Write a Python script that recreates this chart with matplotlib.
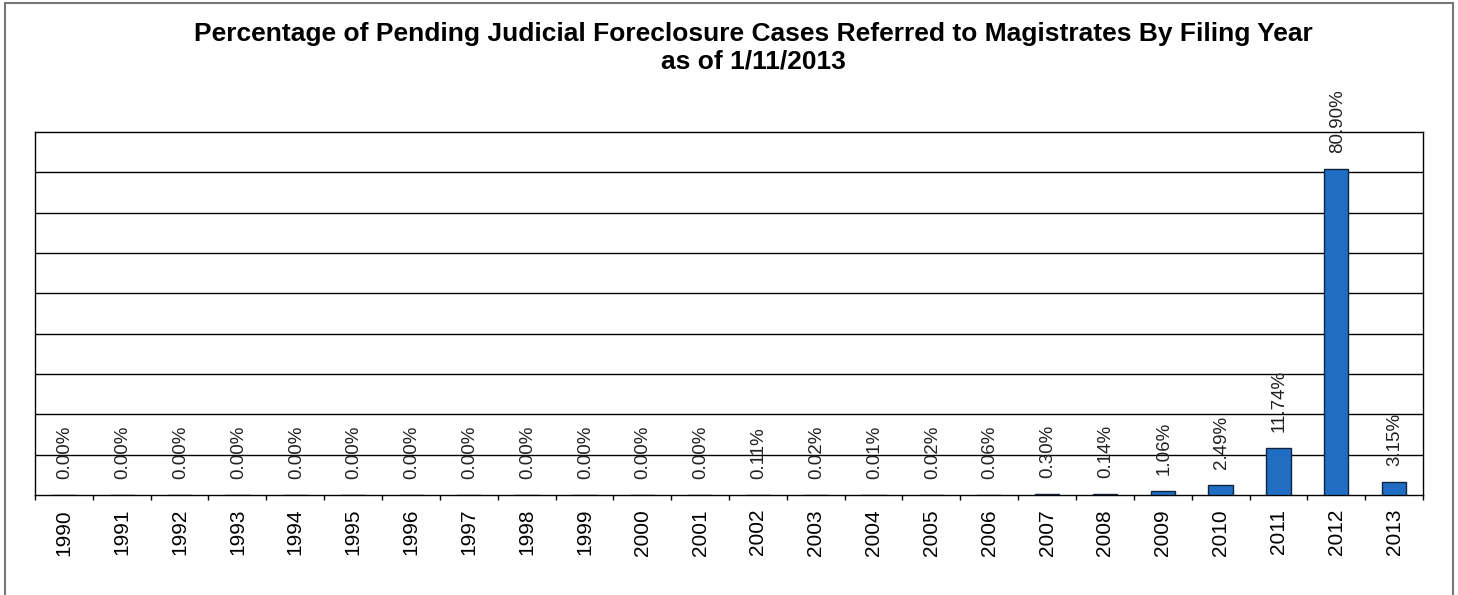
import matplotlib
matplotlib.use("Agg")
import matplotlib.pyplot as plt
from matplotlib.patches import Rectangle

years = [str(y) for y in range(1990, 2014)]
values = [0, 0, 0, 0, 0, 0, 0, 0, 0, 0, 0, 0,
          0.11, 0.02, 0.01, 0.02, 0.06, 0.30, 0.14, 1.06, 2.49, 11.74, 80.90, 3.15]
labels = ["0.00%"] * 12 + ["0.11%", "0.02%", "0.01%", "0.02%", "0.06%", "0.30%",
                           "0.14%", "1.06%", "2.49%", "11.74%", "80.90%", "3.15%"]
title = ("Percentage of Pending Judicial Foreclosure Cases Referred to Magistrates By Filing Year\n"
         "as of 1/11/2013")

plt.rcParams['font.family'] = ['Liberation Sans', 'DejaVu Sans']

W, H = 1458, 595
fig = plt.figure(figsize=(W / 100, H / 100), dpi=100)
ax = fig.add_axes([35 / W, 1 - 495 / H, (1423 - 35) / W, (495 - 132) / H])

x = list(range(len(years)))
ax.bar(x, values, width=0.42, color='#1f6ec4', edgecolor='#10243f', linewidth=1.0, zorder=3)

for xi, v, lab in zip(x, values, labels):
    ax.annotate(lab, (xi, v), xytext=(1, 16), textcoords='offset pixels',
                rotation=90, ha='center', va='bottom', fontsize=13.5, color='#222222')

ax.set_xlim(-0.5, len(years) - 0.5)
ax.set_ylim(0, 90)
ax.set_yticks([])
for g in range(10, 90, 10):
    ax.axhline(g, color='black', linewidth=1.0, zorder=1)

ax.set_xticks(x)
ax.set_xticklabels(years, rotation=90, fontsize=15)
ax.tick_params(axis='x', which='major', length=0, pad=10)
ax.set_xticks([i - 0.5 for i in range(len(years) + 1)], minor=True)
ax.tick_params(axis='x', which='minor', length=3.8, width=1.0, direction='out', color='black')

for s in ax.spines.values():
    s.set_color('black')
    s.set_linewidth(1.0)

fig.text(753 / W, 1 - 22 / H, title, ha='center', va='top', fontsize=19,
         fontweight='bold', linespacing=1.18)

frame = Rectangle((5 / W, -0.1), (1453 - 5) / W, (H - 3) / H + 0.1,
                  transform=fig.transFigure, fill=False, edgecolor='#777777',
                  linewidth=1.5, clip_on=False)
fig.patches.append(frame)

fig.savefig("out.png", dpi=100)
